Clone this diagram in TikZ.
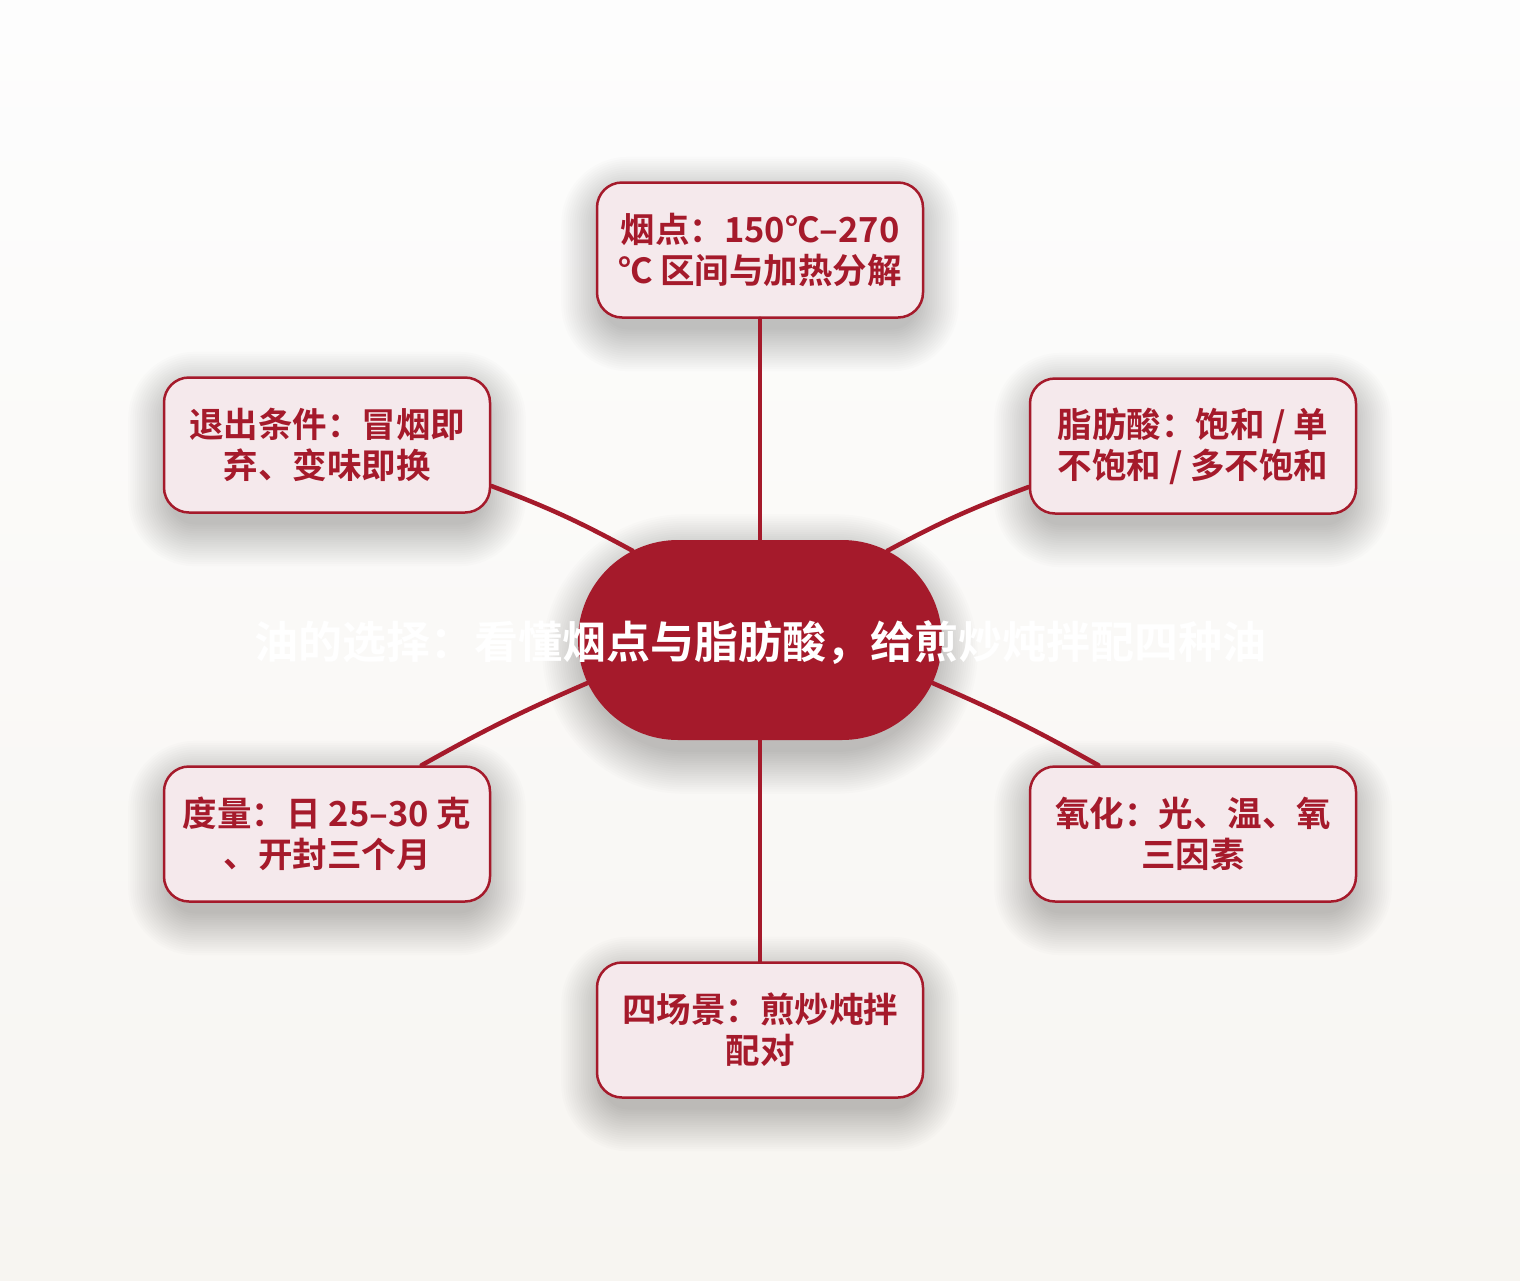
\documentclass[tikz,border=0pt]{standalone}
\usepackage{fontspec}
\setmainfont{Noto Sans CJK SC}[BoldFont={Noto Sans CJK SC Bold}]
\usetikzlibrary{shapes.misc}
\definecolor{dred}{HTML}{A51A2B}
\definecolor{pinkfill}{HTML}{F5E9EC}
\definecolor{bgtop}{HTML}{FDFDFD}
\definecolor{bgbot}{HTML}{F7F5F1}
\tikzset{
  leaf/.style={draw=dred, line width=2.5pt, fill=pinkfill, rounded corners=25pt,
    minimum width=326pt, minimum height=135pt, inner sep=0pt, align=center,
    text=dred, font=\fontsize{34.5}{41}\selectfont\bfseries},
  hub/.style={rounded rectangle, fill=dred, draw=none, minimum width=364pt, minimum height=200pt,
    inner sep=0pt},
  title/.style={text=white, font=\fontsize{44}{50}\selectfont\bfseries, inner sep=0pt},
  link/.style={draw=dred, line width=4.5pt, line cap=round},
  shade/.style={fill=black, opacity=0.011}
}
\begin{document}
\begin{tikzpicture}[x=1pt,y=-1pt]
\useasboundingbox (0,0) rectangle (1520,1280);
\fill[top color=bgtop, bottom color=bgbot] (0,0) rectangle (1520,1280);
% soft shadows
\foreach \cx/\cy in {760/250, 327/445, 1193/446, 327/834, 1193/834, 760/1030}{
  \foreach \i in {0,...,19}{
    \pgfmathsetmacro{\r}{25+\i*2.2}
    \fill[shade, rounded corners=\r pt]
      (\cx-163-\i*2.2+6, \cy-67.5-\i*2.2+16) rectangle (\cx+163+\i*2.2-6, \cy+67.5+\i*2.2+12);
  }
}
\foreach \i in {0,...,19}{
  \pgfmathsetmacro{\r}{100+\i*2.2}
  \fill[shade, rounded corners=\r pt]
    (760-182-\i*2.2+6, 640-100-\i*2.2+16) rectangle (760+182+\i*2.2-6, 640+100+\i*2.2+12);
}
\node[hub] (c) at (760,640) {};
\node[leaf] (t) at (760,250) {烟点：150℃–270\\℃ 区间与加热分解};
\node[leaf] (tl) at (327,445) {退出条件：冒烟即\\弃、变味即换};
\node[leaf] (tr) at (1193,446) {脂肪酸：饱和 / 单\\不饱和 / 多不饱和};
\node[leaf] (bl) at (327,834) {度量：日 25–30 克\\、开封三个月};
\node[leaf] (br) at (1193,834) {氧化：光、温、氧\\三因素};
\node[leaf] (b) at (760,1030) {四场景：煎炒炖拌\\配对};
\draw[link] (c.north) -- (t.south);
\draw[link] (tl.-14) to[bend left=4] (c.145);
\draw[link] (tr.194) to[bend right=4] (c.35);
\draw[link] (bl.36) to[bend left=3] (c.194);
\draw[link] (br.144) to[bend right=3] (c.-14);
\draw[link] (c.south) -- (b.north);
\node[title] (ttl) at (760,643) {油的选择：看懂烟点与脂肪酸，给煎炒炖拌配四种油};
\end{tikzpicture}
\end{document}
